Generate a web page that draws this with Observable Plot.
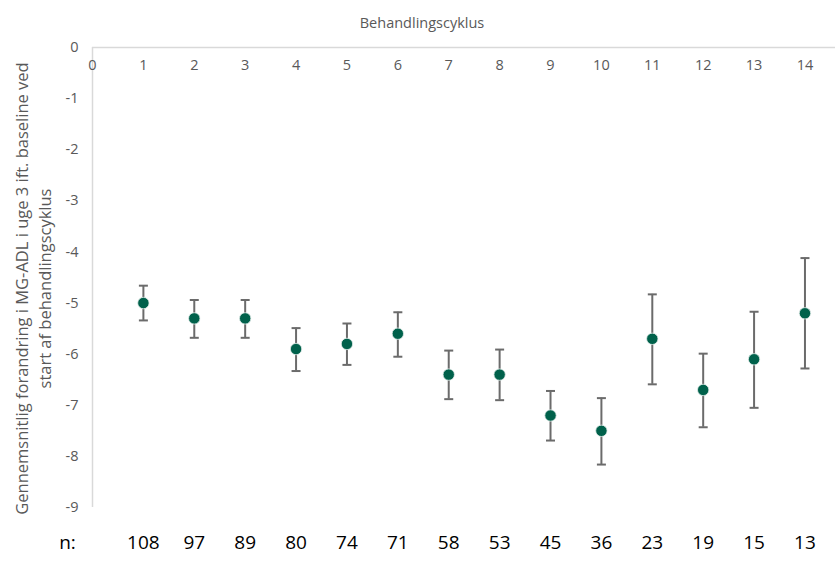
<!DOCTYPE html>
<html>
<head>
<meta charset="utf-8">
<script src="https://cdn.jsdelivr.net/npm/d3@7"></script>
<script src="https://cdn.jsdelivr.net/npm/@observablehq/plot@0.6"></script>
<style>
  html, body { margin: 0; padding: 0; background: #fff; }
  #chart svg { display: block; }
</style>
</head>
<body>
<div id="chart"></div>
<script>
const cycles = [1, 2, 3, 4, 5, 6, 7, 8, 9, 10, 11, 12, 13, 14];
const means  = [-5.0, -5.3, -5.3, -5.9, -5.8, -5.6, -6.4, -6.4, -7.2, -7.5, -5.7, -6.7, -6.1, -5.2];
const upper  = [-4.66, -4.94, -4.94, -5.49, -5.40, -5.18, -5.93, -5.91, -6.72, -6.86, -4.83, -5.99, -5.17, -4.12];
const lower  = [-5.34, -5.68, -5.68, -6.33, -6.21, -6.05, -6.88, -6.90, -7.69, -8.16, -6.59, -7.43, -7.05, -6.28];
const nValues = [108, 97, 89, 80, 74, 71, 58, 53, 45, 36, 23, 19, 15, 13];
const xTicks = [0, 1, 2, 3, 4, 5, 6, 7, 8, 9, 10, 11, 12, 13, 14];
const yTicks = [0, -1, -2, -3, -4, -5, -6, -7, -8, -9];
const titleText = "Behandlingscyklus";
const yLabelLines = ["Gennemsnitlig forandring i MG-ADL i uge 3 ift. baseline ved", "start af behandlingscyklus"];

const data = cycles.map((c, i) => ({cycle: c, mean: means[i], hi: upper[i], lo: lower[i], n: nValues[i]}));

const capSymbol = {
  draw(ctx) { ctx.moveTo(-4.5, 0); ctx.lineTo(4.5, 0); }
};

const font = "'Open Sans', sans-serif";
const gray = "#595959";

const plot = Plot.plot({
  width: 837,
  height: 565,
  marginLeft: 92,
  marginRight: 2,
  marginTop: 47,
  marginBottom: 58,
  style: {fontFamily: font, background: "#fff", overflow: "visible"},
  x: {domain: [0, 14.6], axis: null},
  y: {domain: [-9, 0], axis: null},
  marks: [
    Plot.ruleX([0], {stroke: "#d9d9d9", strokeWidth: 1.5}),
    Plot.ruleY([0], {stroke: "#d9d9d9", strokeWidth: 1.5}),
    Plot.axisX(xTicks, {anchor: "top", tickSize: 0, label: null, dy: 31, fontSize: 14.5, fill: gray, tickFormat: d => String(d)}),
    Plot.axisY(yTicks, {anchor: "left", tickSize: 0, tickPadding: 14, label: null, fontSize: 14.5, fill: gray, tickFormat: d => String(d)}),
    Plot.ruleX(data, {x: "cycle", y1: "lo", y2: "hi", stroke: "#6b6b6b", strokeWidth: 2}),
    Plot.dot(data, {x: "cycle", y: "hi", symbol: capSymbol, stroke: "#6b6b6b", strokeWidth: 2, fill: "none"}),
    Plot.dot(data, {x: "cycle", y: "lo", symbol: capSymbol, stroke: "#6b6b6b", strokeWidth: 2, fill: "none"}),
    Plot.dot(data, {x: "cycle", y: "mean", r: 5.7, fill: "#00614b", stroke: "#e6efec", strokeWidth: 0.8}),
    Plot.text(data, {x: "cycle", text: d => String(d.n), frameAnchor: "bottom", dy: 41, fontSize: 19, fill: "#000"}),
    Plot.text(["n:"], {x: () => 0, text: d => d, frameAnchor: "bottom", dy: 41, dx: -25, fontSize: 19, fill: "#000"}),
    Plot.text([titleText], {text: d => d, frameAnchor: "top", dy: -30, dx: -42, fontSize: 14.5, fill: gray}),
    Plot.text([yLabelLines[0]], {text: d => d, frameAnchor: "left", textAnchor: "middle", dx: -70, dy: 11, rotate: -90, fontSize: 16.5, fill: gray}),
    Plot.text([yLabelLines[1]], {text: d => d, frameAnchor: "left", textAnchor: "middle", dx: -47, dy: 11, rotate: -90, fontSize: 16.5, fill: gray})
  ]
});
document.getElementById("chart").appendChild(plot);
</script>
</body>
</html>
